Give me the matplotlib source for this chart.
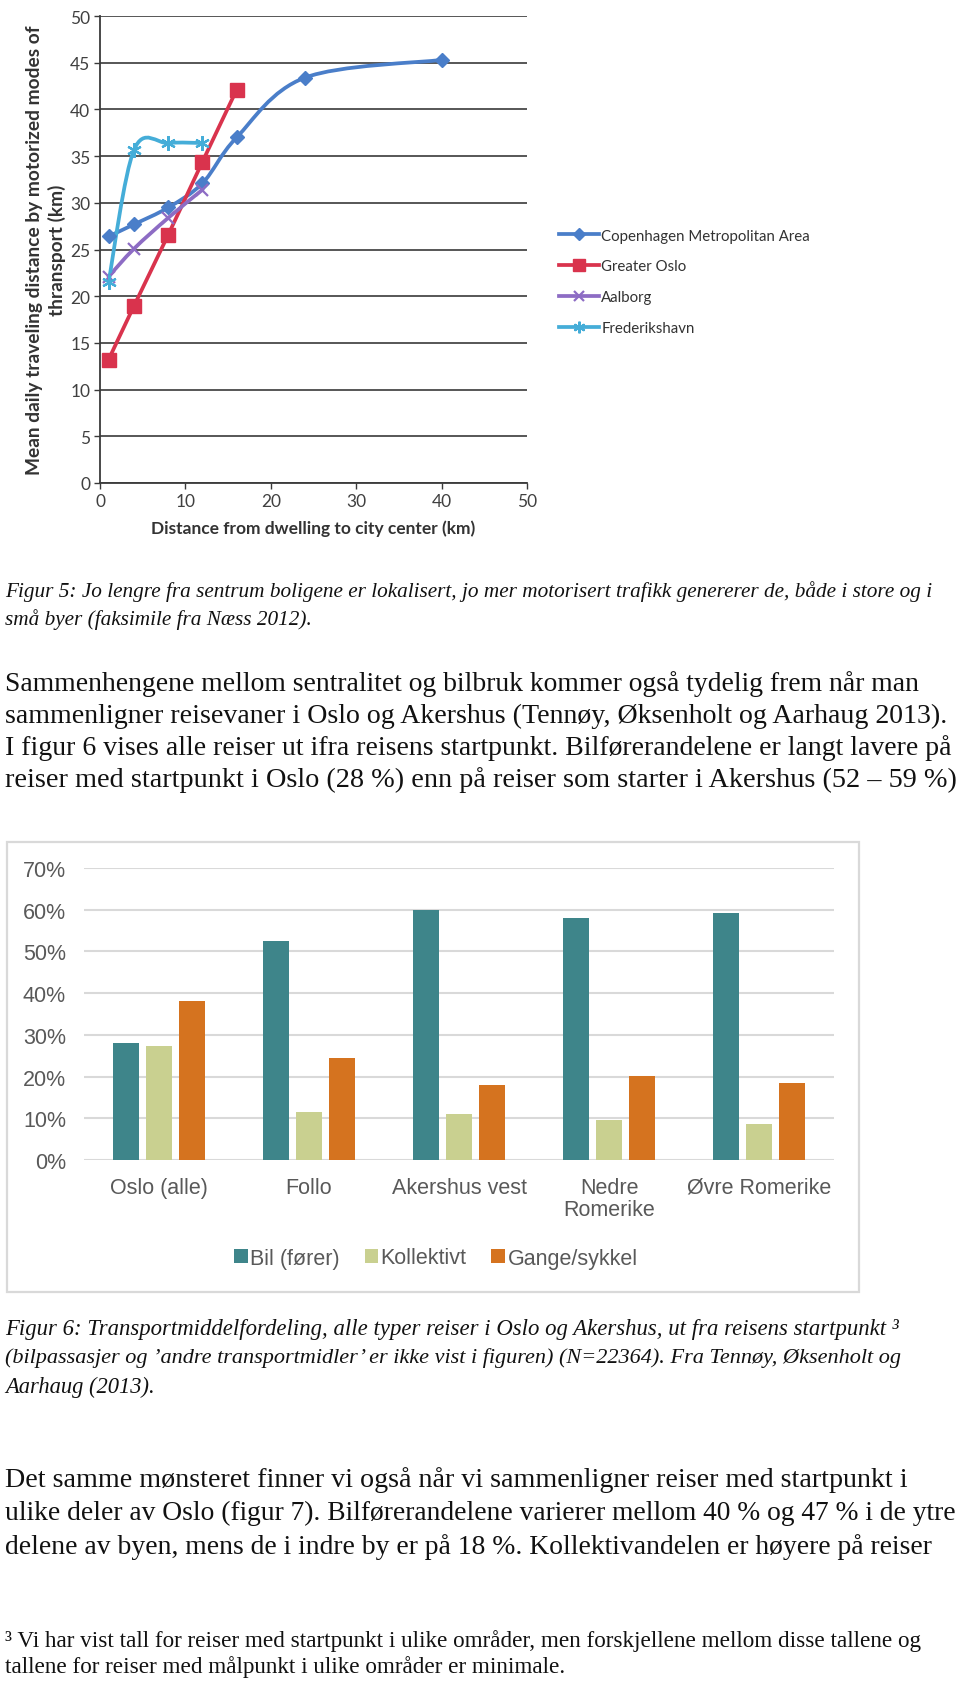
import numpy as np
import matplotlib
matplotlib.use("Agg")
import matplotlib.pyplot as plt
from matplotlib.path import Path
from matplotlib.patches import PathPatch, Rectangle
from matplotlib.lines import Line2D

# ---------------- data: figure 5 (line chart) ----------------
series_names = ["Copenhagen Metropolitan Area", "Greater Oslo", "Aalborg", "Frederikshavn"]
cph_x = [1, 4, 8, 12, 16, 24, 40]
cph_y = [26.4, 27.7, 29.5, 32.1, 37.0, 43.4, 45.3]
oslo_x = [1, 4, 8, 12, 16]
oslo_y = [13.2, 19.0, 26.6, 34.4, 42.1]
aal_x = [1, 4, 8, 12]
aal_y = [22.1, 25.1, 28.4, 31.4]
fred_x = [1, 4, 8, 12]
fred_y = [21.5, 35.7, 36.4, 36.4]
line_xticks = [0, 10, 20, 30, 40, 50]
line_yticks = [0, 5, 10, 15, 20, 25, 30, 35, 40, 45, 50]

# ---------------- data: figure 6 (bar chart) ----------------
regions = ["Oslo (alle)", "Follo", "Akershus vest", "Nedre\nRomerike", "Øvre Romerike"]
modes = ["Bil (fører)", "Kollektivt", "Gange/sykkel"]
bil = [28.0, 52.4, 59.9, 58.0, 59.3]
kollektivt = [27.3, 11.4, 11.0, 9.6, 8.7]
gange = [38.0, 24.4, 17.9, 20.1, 18.5]
bar_yticks = [0, 10, 20, 30, 40, 50, 60, 70]

# ---------------- text ----------------
cap5 = ["Figur 5: Jo lengre fra sentrum boligene er lokalisert, jo mer motorisert trafikk genererer de, både i store og i",
        "små byer (faksimile fra Næss 2012)."]
par1 = ["Sammenhengene mellom sentralitet og bilbruk kommer også tydelig frem når man",
        "sammenligner reisevaner i Oslo og Akershus (Tennøy, Øksenholt og Aarhaug 2013).",
        "I figur 6 vises alle reiser ut ifra reisens startpunkt. Bilførerandelene er langt lavere på",
        "reiser med startpunkt i Oslo (28 %) enn på reiser som starter i Akershus (52 – 59 %)"]
cap6 = ["Figur 6: Transportmiddelfordeling, alle typer reiser i Oslo og Akershus, ut fra reisens startpunkt ³",
        "(bilpassasjer og ’andre transportmidler’ er ikke vist i figuren) (N=22364). Fra Tennøy, Øksenholt og",
        "Aarhaug (2013)."]
par2 = ["Det samme mønsteret finner vi også når vi sammenligner reiser med startpunkt i",
        "ulike deler av Oslo (figur 7). Bilførerandelene varierer mellom 40 % og 47 % i de ytre",
        "delene av byen, mens de i indre by er på 18 %. Kollektivandelen er høyere på reiser"]
foot = ["³ Vi har vist tall for reiser med startpunkt i ulike områder, men forskjellene mellom disse tallene og",
        "tallene for reiser med målpunkt i ulike områder er minimale."]

W, H = 960, 1683
fig = plt.figure(figsize=(W / 100, H / 100), dpi=100)
renderer = fig.canvas.get_renderer()

def fx(px):
    return px / W

def fy(py):
    return 1 - py / H

# ================= Figure 5: line chart =================
ax1 = fig.add_axes([fx(100), fy(484), fx(527) - fx(100), fy(17) - fy(484)])
ax1.set_xlim(0, 50)
ax1.set_ylim(0, 50)
ax1.set_xticks(line_xticks)
ax1.set_yticks(line_yticks)
ax1.yaxis.grid(True, color="#3a3a3a", lw=1.2)
ax1.set_axisbelow(True)
for s in ["top", "right"]:
    ax1.spines[s].set_visible(False)
for s in ["left", "bottom"]:
    ax1.spines[s].set_color("#3a3a3a")
    ax1.spines[s].set_linewidth(1.3)
ax1.tick_params(axis="both", colors="#3a3a3a", labelcolor="#404040", length=4, width=1,
                labelsize=12.5, pad=3)
for lab in ax1.get_xticklabels() + ax1.get_yticklabels():
    lab.set_family("Lato")

sx, sy = 427 / 50, 467 / 50

def smooth_path(xs, ys):
    P = np.column_stack([np.asarray(xs, float) * sx, np.asarray(ys, float) * sy])
    n = len(P)
    verts = [P[0]]
    codes = [Path.MOVETO]
    for i in range(n - 1):
        p0 = P[i - 1] if i > 0 else P[i]
        p1, p2 = P[i], P[i + 1]
        p3 = P[i + 2] if i + 2 < n else P[i + 1]
        verts += [p1 + (p2 - p0) / 6, p2 - (p3 - p1) / 6, p2]
        codes += [Path.CURVE4] * 3
    V = np.array(verts)
    V[:, 0] /= sx
    V[:, 1] /= sy
    return Path(V, codes)

styles = [
    (cph_x, cph_y, "#4A7EC9", "D", 7.5, dict()),
    (oslo_x, oslo_y, "#D9334D", "s", 10, dict()),
    (aal_x, aal_y, "#8D6CC4", "x", 8.5, dict(markeredgewidth=1.6)),
    (fred_x, fred_y, "#45ADD8", (6, 2, 0), 10.5, dict(markeredgewidth=1.6)),
]
handles = []
for (xs, ys, col, mk, ms, extra), name in zip(styles, series_names):
    ax1.add_patch(PathPatch(smooth_path(xs, ys), fill=False, edgecolor=col, lw=2.7,
                            capstyle="round", zorder=3))
    ax1.plot(xs, ys, ls="none", marker=mk, ms=ms, color=col, zorder=4, **extra)
    handles.append(Line2D([], [], color=col, lw=2.7, marker=mk, ms=ms * 0.8, **extra))

ax1.set_xlabel("Distance from dwelling to city center (km)", fontsize=12.5, fontweight="bold",
               family="Lato", color="#333333", labelpad=8)
ax1.set_ylabel("Mean daily traveling distance by motorized modes of\nthransport (km)",
               fontsize=13.8, fontweight="bold", family="Lato", color="#333333", linespacing=1.3)
ax1.yaxis.label.set_va("center")
ax1.yaxis.set_label_coords((46 - 100) / 427, 0.5)

fig.legend(handles, series_names, loc="upper left", bbox_to_anchor=(fx(545), fy(216)),
           frameon=False, handlelength=2.7, handletextpad=0.15,
           labelspacing=1.12, prop={"family": "Lato", "size": 10.8}, labelcolor="#333333")

# ================= Figure 6: bar chart =================
ax2 = fig.add_axes([fx(84), fy(1161), fx(834) - fx(84), fy(869) - fy(1161)])
xpos = np.arange(len(regions))
pitch, bw = 0.222, 0.175
cols = ["#3E858A", "#C9D090", "#D5731F"]
for k, (vals, col, name) in enumerate(zip([bil, kollektivt, gange], cols, modes)):
    ax2.bar(xpos + (k - 1) * pitch, vals, width=bw, color=col, label=name, zorder=3)
ax2.set_xlim(-0.5, len(regions) - 0.5)
ax2.set_ylim(0, 70)
ax2.set_yticks(bar_yticks)
ax2.set_yticklabels([f"{v}%" for v in bar_yticks])
ax2.set_xticks(xpos)
ax2.set_xticklabels(regions)
ax2.yaxis.grid(True, color="#D9D9D9", lw=1.5)
ax2.set_axisbelow(True)
for s in ax2.spines.values():
    s.set_visible(False)
ax2.tick_params(axis="both", length=0, labelsize=15.5, labelcolor="#595959")
ax2.tick_params(axis="y", pad=13)
ax2.tick_params(axis="x", pad=12)
for lab in ax2.get_xticklabels() + ax2.get_yticklabels():
    lab.set_family("Liberation Sans")
    lab.set_linespacing(1.08)

fig.legend(*ax2.get_legend_handles_labels(), loc="center", bbox_to_anchor=(fx(436), fy(1259)),
           ncol=3, frameon=False, handlelength=0.62, handleheight=0.62, handletextpad=0.12,
           columnspacing=1.15, prop={"family": "Liberation Sans", "size": 15.5},
           labelcolor="#595959")

fig.patches.append(Rectangle((fx(7), fy(1293)), fx(859) - fx(7), fy(843) - fy(1293),
                             transform=fig.transFigure, fill=False, edgecolor="#D9D9D9",
                             lw=1.6))

# ================= body text =================
def measure(s, size, **kw):
    t = fig.text(0, 0, s, fontsize=size, **kw)
    w = t.get_window_extent(renderer).width
    t.remove()
    return w

def paragraph(lines, ys, right_edges, x0=5, **kw):
    sizes = []
    for s, r in zip(lines, right_edges):
        if r is not None:
            sizes.append(20 * (r - x0) / measure(s, 20, **kw))
    med = float(np.median(sizes))
    i = 0
    for s, y, r in zip(lines, ys, right_edges):
        size = sizes[i] if r is not None else med
        if r is not None:
            i += 1
        px = size * 100 / 72
        fig.text(fx(x0), fy(y + 0.24 * px), s, fontsize=size, ha="left", va="baseline",
                 color="#111111", **kw)

serif = dict(family="Liberation Serif")
italic = dict(family="Liberation Serif", style="italic")
paragraph(cap5, [592, 620], [936, None], **italic)
paragraph(par1, [684, 716, 748, 780], [920, 947, 949, 957], **serif)
paragraph(cap6, [1330, 1358, 1388], [898, 904, None], **italic)
paragraph(par2, [1480, 1513, 1547], [907, 957, 934], **serif)
paragraph(foot, [1641, 1667], [923, None], **serif)

fig.savefig("out.png", dpi=100, facecolor="white")
